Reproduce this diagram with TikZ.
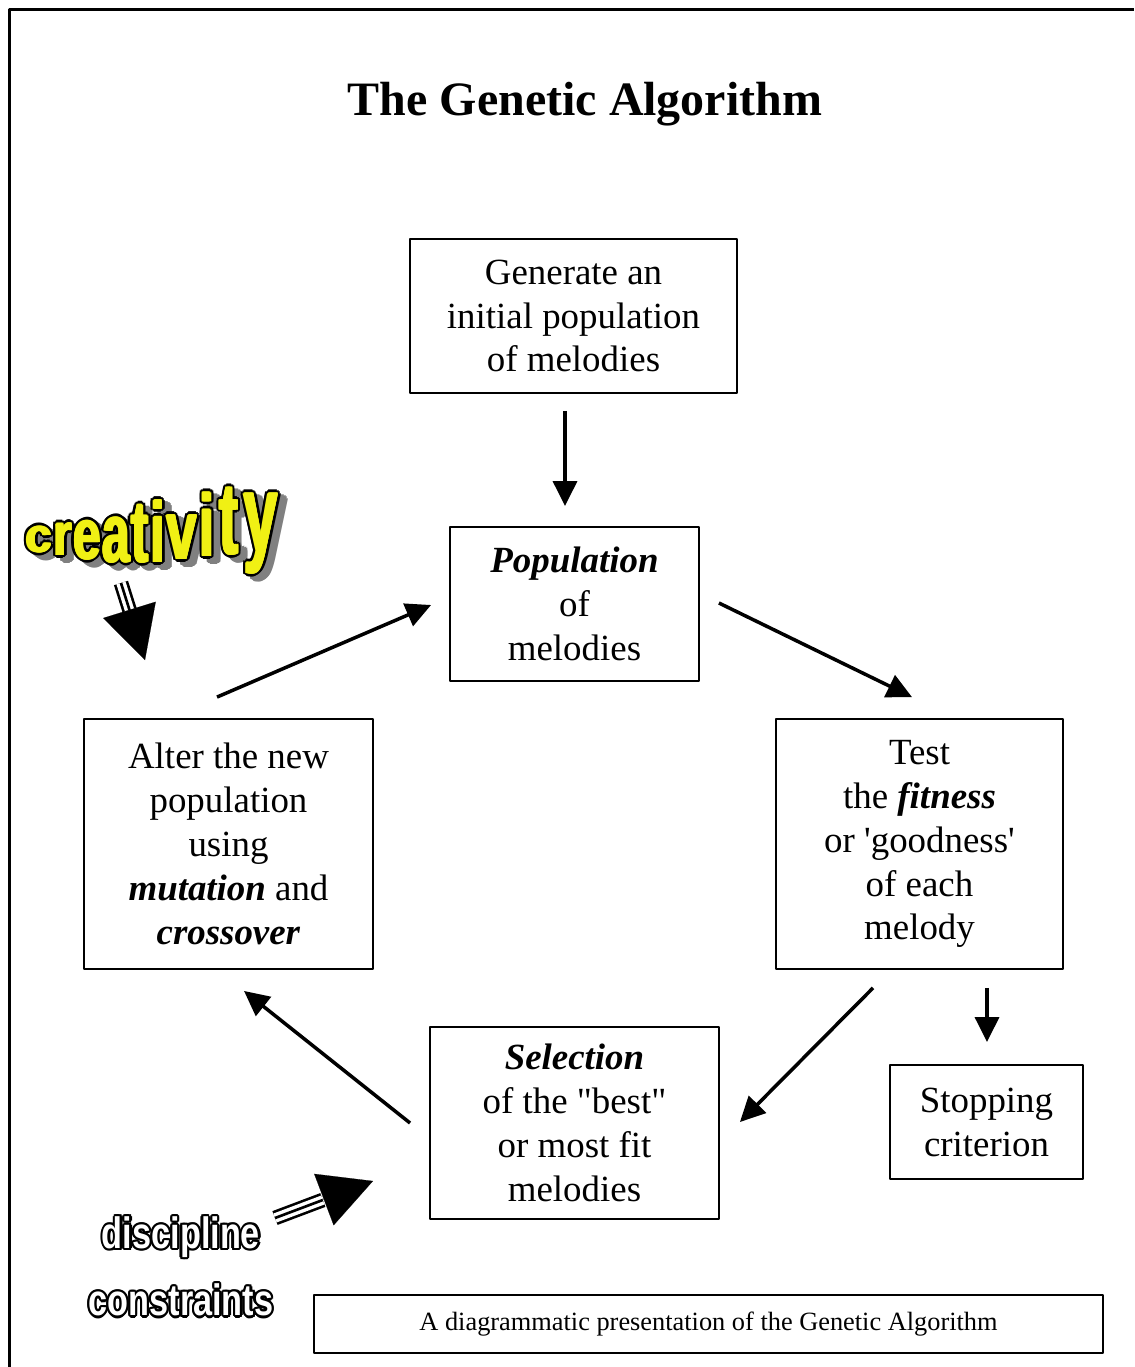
\documentclass[tikz,border=0pt]{standalone}
\usepackage{fontspec}
\setmainfont{Liberation Serif}
\newfontfamily\artfont{Liberation Sans}
\usetikzlibrary{arrows.meta,calc}

\definecolor{artyellow}{RGB}{240,240,20}
\definecolor{artshadow}{RGB}{128,128,128}

\tikzset{
	stage/.style={draw, line width=1.1pt, inner sep=0pt, align=center, font=\fontsize{21}{25}\selectfont},
	flow/.style={line width=2pt, -{Triangle[length=0.5cm,width=0.48cm]}},
	triple/.style={line width=1.5pt, double, double distance=5.4pt},
	bighead/.style={line width=0.1pt, -{Triangle[length=1.05cm,width=1.1cm]}},
	creat/.style={font=\artfont\bfseries\fontsize{27}{27}\selectfont, inner sep=0pt, anchor=base},
	ruleword/.style={font=\artfont\bfseries\fontsize{25}{25}\selectfont, inner sep=0pt, xscale=0.78},
}

\newcommand{\bi}[1]{\textbf{\textit{#1}}}
% letters of the word art, growing to the right
\newcommand{\creativityword}[2]{%
	\foreach \ch/\cx/\cy/\sx/\sy in {c/39/552/1.0/1.0, r/63/555/1.0/1.25, e/87/559/1.05/1.5, a/116/562/1.05/1.75, t/140/562/1.1/1.85, i/158/562/1.1/1.8, v/182/559/1.15/1.75, i/207/556/1.15/1.85, t/229/554/1.2/2.15, y/261/551/1.3/2.3}
		\node[creat, #1, xscale=\sx, yscale=\sy] at ($(\cx,\cy)+#2$) {\ch};
}

\begin{document}
\begin{tikzpicture}[x=0.02cm, y=-0.02cm, line join=round]
	\useasboundingbox (0,0) rectangle (1134,1367);
	\draw[line width=1.7pt] (9.5,1367) -- (9.5,9.5) -- (1134,9.5);
	\node[font=\bfseries\fontsize{27.3}{30}\selectfont] (title) at (585,104) {The Genetic Algorithm};

	\node[stage, minimum width=6.54cm, minimum height=3.08cm] (gen) at (573.5,316) {Generate an\\initial population\\of melodies};
	\node[stage, minimum width=4.98cm, minimum height=3.08cm] (pop) at (574.5,604) {\bi{Population}\\of\\melodies};
	\node[stage, minimum width=5.78cm, minimum height=5cm] (alter) at (228.5,844) {Alter the new\\population\\using\\\bi{mutation} and\\\bi{crossover}};
	\node[stage, minimum width=5.74cm, minimum height=5cm] (test) at (919.5,844) {Test\\the \bi{fitness}\\or \textquotesingle goodness\textquotesingle\\of each\\melody};
	\node[stage, minimum width=5.78cm, minimum height=3.84cm] (sel) at (574.5,1123) {\bi{Selection}\\of the \textquotedbl best\textquotedbl\\or most fit\\melodies};
	\node[stage, minimum width=3.86cm, minimum height=2.28cm] (stop) at (986.5,1122) {Stopping\\criterion};
	\node[stage, minimum width=15.78cm, minimum height=1.16cm, font=\fontsize{15}{18}\selectfont] (cap) at (708.5,1324) {A diagrammatic presentation of the Genetic Algorithm};

	\draw[flow] ($(gen.south)+(-8.5,17)$) -- ($(pop.north)+(-9.5,-20)$);
	\draw[flow] ($(pop.east)+(19,-1)$) -- ($(test.north)+(-7.5,-21)$);
	\draw[flow] ($(test.south)+(-46.5,18)$) -- ($(sel.east)+(20,-1)$);
	\draw[flow] ($(sel.west)+(-19,0)$) -- ($(alter.south)+(15.5,21)$);
	\draw[flow] ($(alter.north)+(-11.5,-21)$) -- ($(pop.west)+(-18,1)$);
	\draw[flow] ($(test.south)+(67.5,18)$) -- ($(stop.north)+(0.5,-22)$);

	% creativity
	\foreach \a in {0,30,...,330} {\creativityword{text=artshadow}{(7,5)+(\a:1.9pt)}}
	\foreach \a in {0,30,...,330} {\creativityword{text=black}{(\a:1.9pt)}}
	\foreach \a in {0,60,...,300} {\creativityword{text=artyellow}{(\a:0.6pt)}}
	\coordinate (ctail) at (121,583);
	\coordinate (cbase) at (129.5,610);
	\coordinate (ctip) at (145,660);
	\draw[triple] (ctail) -- (cbase);
	\draw[line width=1.5pt] (ctail) -- (cbase);
	\draw[bighead] (cbase) -- (ctip);

	% discipline, constraints
	\coordinate (disc) at (181,1237);
	\coordinate (cons) at (181,1300);
	\foreach \a in {0,30,...,330} {
		\node[ruleword] at ($(disc)+(\a:1.3pt)$) {discipline};
		\node[ruleword] at ($(cons)+(\a:1.3pt)$) {constraints};
	}
	\node[ruleword, text=white] at (disc) {discipline};
	\node[ruleword, text=white] at (cons) {constraints};
	\coordinate (dtail) at (275,1218);
	\coordinate (dbase) at (322.8,1200);
	\coordinate (dtip) at (373,1181);
	\draw[triple] (dtail) -- (dbase);
	\draw[line width=1.5pt] (dtail) -- (dbase);
	\draw[bighead] (dbase) -- (dtip);
\end{tikzpicture}
\end{document}
